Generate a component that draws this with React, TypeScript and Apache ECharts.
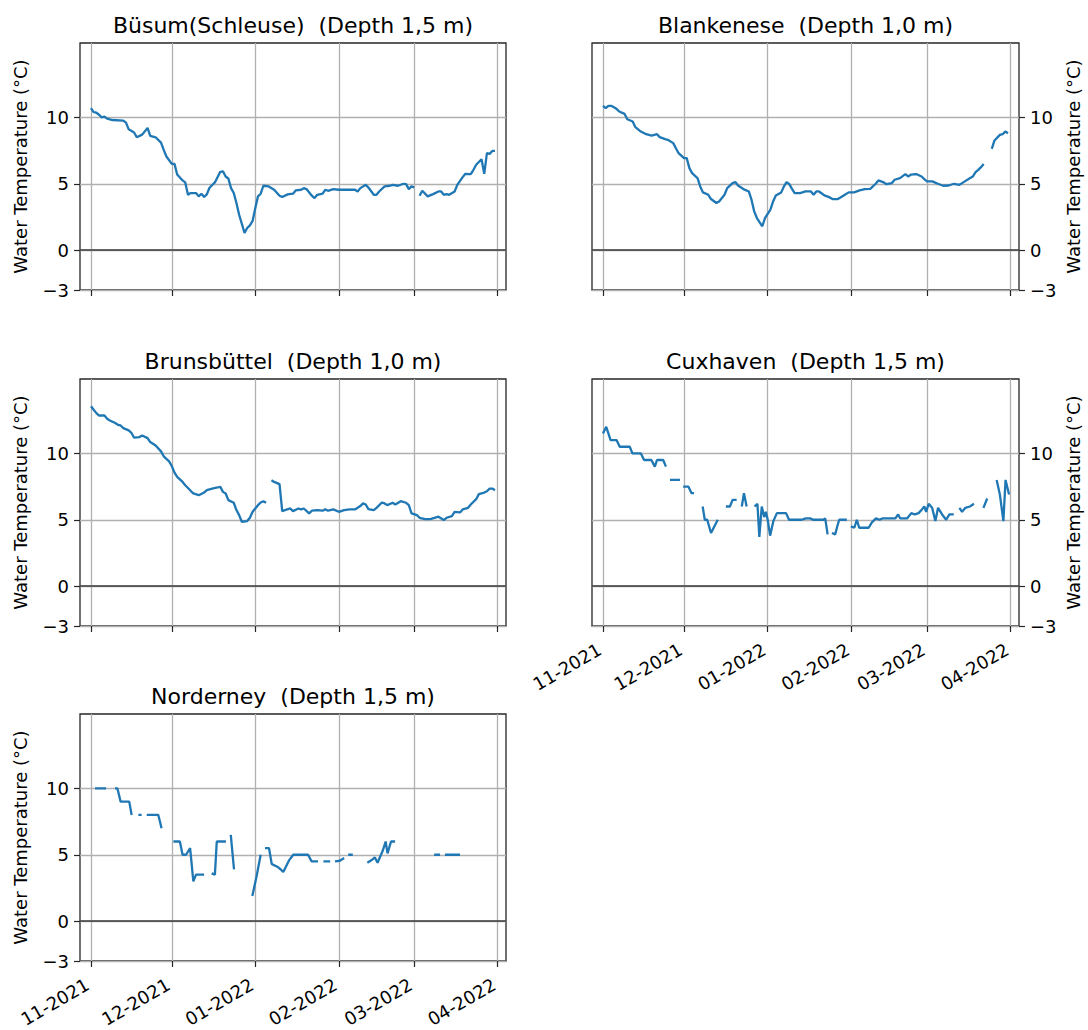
import React, { useEffect, useRef } from "react";
import * as echarts from "echarts";

// ---------- data (day offsets from 2021-11-01, temperatures in °C; null = gap) ----------
const busumDays = [0,1,2,3,4,5,6,8,12,13,14,16,17,19,21,22,24,26,27,28,30,31,32,34,35,36,37,39,40,41,42,43,44,46,48,49,50,51,52,53,54,55,57,58,59,60,61,62,63,64,66,68,70,71,73,75,76,78,79,80,82,83,84,86,87,88,90,92,95,98,99,100,102,103,105,106,107,109,111,112,114,116,117,118,119,120,121,122,123,125,127,129,130,131,132,133,135,136,138,139,141,142,143,145,146,147,148,149,150];
const busumTemps = [10.69,10.4,10.35,10.2,10.0,10.05,9.9,9.8,9.76,9.6,9.1,8.86,8.5,8.7,9.2,8.6,8.5,8.1,7.55,7.05,6.5,6.5,5.7,5.25,5.1,4.17,4.3,4.3,4.05,4.25,4.0,4.2,4.7,5.1,5.9,5.93,5.55,5.4,4.67,4.3,3.55,2.67,1.3,1.67,1.87,2.2,3.17,4.05,4.25,4.85,4.8,4.55,4.1,4.0,4.2,4.25,4.5,4.55,4.67,4.6,4.1,3.92,4.17,4.25,4.55,4.47,4.6,4.55,4.55,4.55,4.42,4.67,4.92,4.72,4.17,4.17,4.42,4.8,4.85,4.92,4.85,5.0,4.97,4.6,4.8,4.72,null,4.1,4.47,4.05,4.22,4.42,4.42,4.17,4.22,4.17,4.42,4.92,5.5,5.75,5.72,6.05,6.43,6.85,5.75,7.3,7.25,7.47,7.47];

const blankeneseDays = [0,1,2,3,5,6,8,9,11,12,14,16,18,20,21,23,24,26,27,28,30,31,32,33,35,36,37,39,40,42,43,45,46,48,49,50,52,54,55,56,57,59,60,62,63,64,66,67,68,69,70,71,73,75,77,78,79,80,82,84,85,87,89,91,93,95,97,99,101,102,104,105,107,108,110,112,113,114,116,118,119,120,122,124,126,128,130,132,133,134,136,137,138,139,140,141,142,144,145,147,148,149,150];
const blankeneseTemps = [10.87,10.69,10.87,10.87,10.64,10.44,10.26,9.86,9.69,9.26,8.93,8.73,8.63,8.73,8.51,8.36,8.31,8.06,7.68,7.3,6.93,6.93,6.18,5.8,5.43,4.8,4.35,4.17,3.85,3.55,3.67,4.17,4.67,5.05,5.13,4.87,4.6,4.42,3.8,2.92,2.42,1.8,2.42,3.05,3.67,4.12,4.35,4.8,5.13,4.97,4.62,4.3,4.3,4.42,4.42,4.17,4.42,4.42,4.12,3.97,3.85,3.85,4.1,4.35,4.35,4.5,4.6,4.62,5.0,5.25,5.1,4.97,5.05,5.3,5.43,5.73,5.55,5.68,5.73,5.55,5.35,5.18,5.18,5.0,4.85,4.87,5.0,4.92,5.05,5.18,5.43,5.55,5.88,6.05,6.25,6.48,null,7.63,8.26,8.68,8.73,8.93,8.8];

const brunsbuettelDays = [0,1,2,3,5,6,7,9,10,11,12,14,15,16,18,19,21,22,24,26,27,29,30,31,32,34,35,37,38,40,42,43,45,47,48,49,50,51,53,54,55,56,58,59,60,62,63,64,65,66,67,68,70,71,72,74,75,77,78,79,81,82,84,86,87,88,90,92,94,96,98,100,101,102,103,105,106,108,109,110,112,113,115,117,118,119,121,122,124,126,129,131,132,134,135,137,138,140,141,143,144,146,147,148,149,150];
const brunsbuettelTemps = [13.55,13.28,13.03,12.85,12.85,12.6,12.48,12.28,12.15,12.1,11.9,11.73,11.55,11.18,11.23,11.35,11.15,10.85,10.6,10.15,9.78,9.4,9.05,8.55,8.23,7.85,7.6,7.18,6.98,6.85,7.05,7.23,7.35,7.43,7.48,7.1,6.98,6.48,6.28,5.73,5.35,4.85,4.9,5.15,5.6,6.1,6.3,6.4,6.28,null,7.98,7.85,7.68,5.65,5.73,5.85,5.65,5.85,5.78,5.85,5.48,5.68,5.73,5.68,5.78,5.68,5.78,5.6,5.73,5.78,5.78,6.03,6.23,6.15,5.8,5.73,5.9,6.3,6.23,6.1,6.28,6.15,6.4,6.28,6.1,5.48,5.35,5.15,5.05,5.05,5.23,4.98,5.15,5.28,5.6,5.55,5.78,5.9,6.15,6.55,6.93,7.05,7.15,7.35,7.35,7.23];

const cuxhavenDays = [0,1.2,2.8,5,6.2,9.9,10.9,14,15.2,17.9,19.2,20,22.3,23.3,24,24.8,28.5,29,29.7,31.6,32.8,33.7,35,36.9,37.7,38.6,40,42.5,44,45.5,47,48,49.5,50.5,51.4,52.2,53.2,55,56.1,57.2,57.9,58.8,59.7,60.3,61,61.9,63.1,64.4,67.8,68.9,71.2,73.6,75.1,76.7,77.9,81.6,82.3,83.2,84,84.8,86,86.9,87.5,90.3,91,91.8,93.1,94,94.9,98.4,99.6,101.1,102.4,103.6,104.6,106.4,108.3,109.3,110.1,112.6,114.2,115.5,116.9,118.2,119,119.7,120.6,121.9,123.1,124.1,125.6,127.1,128.3,129.9,131,132,133,134.2,135.9,137.4,139,140.9,142.3,144,145.8,147,148.3,149.1,150.4];
const cuxhavenTemps = [11.5,12,11,11,10.5,10.5,10,10,9.5,9.5,9,9.5,9.5,9,null,8,8,null,7.5,7.5,7,7,null,6,5,5,4,5,null,6,6,6.5,6.5,null,6,7,6,null,6,6.2,3.7,6,5.2,5.6,5,3.8,4.9,5.5,5.5,5,5,5,5.1,5.1,5,5,5.1,3.9,null,4,3.9,4.6,5,5,null,4.5,4.4,5,4.4,4.4,4.8,5.1,5,5.1,5.1,5.1,5.1,5.4,5.1,5.1,5.5,5.4,5.5,5.8,6,5.6,6.2,5.9,4.9,5.9,5.4,5,5.4,5.4,null,5.9,5.6,5.9,6,6.2,null,5.9,6.6,null,8,6.9,4.9,8,6.9];

const norderneyDays = [1.5,5.6,7,8.9,9.8,11,14.2,15.1,16.5,17.6,18.8,19.7,20.7,25,26.2,28,30.6,33,34,35.3,36.8,38,39,42,43.5,44.8,46,46.7,50.1,51,51.9,53.1,56,59.9,61.5,63,63.8,64.6,66.1,67.1,68.1,69.2,70.4,71.4,73.6,75.1,80.6,81.9,84.3,85.3,86.3,88.8,89.7,90.6,92.4,94,94.7,95.5,97.2,100,102.6,104.2,105.4,106.4,108.3,109.4,110.1,111.4,112.9,120,127.4,129.6,130.5,131.4,137];
const norderneyTemps = [10,10,null,10,10,9,9,8,null,8,8,null,8,8,7,null,6,6,5,5,5.5,3,3.5,3.5,null,3.6,3.5,6,6,null,6.5,3.9,null,1.9,3.4,5,null,5.5,5.5,4.3,4.2,4.1,3.9,3.7,4.6,5,5,4.5,4.5,null,4.5,4.5,null,4.5,4.55,4.75,null,5,5,null,4.4,4.6,4.8,4.4,5.3,6,5.1,6,6,null,5,5,null,5,5];

const STATION_TITLES = [
  "Büsum(Schleuse)  (Depth 1,5 m)",
  "Blankenese  (Depth 1,0 m)",
  "Brunsbüttel  (Depth 1,0 m)",
  "Cuxhaven  (Depth 1,5 m)",
  "Norderney  (Depth 1,5 m)",
];
const STATION_DAYS = [busumDays, blankeneseDays, brunsbuettelDays, cuxhavenDays, norderneyDays];
const STATION_TEMPS = [busumTemps, blankeneseTemps, brunsbuettelTemps, cuxhavenTemps, norderneyTemps];

const MONTH_TICKS: [number, number][] = [[2021, 10], [2021, 11], [2022, 0], [2022, 1], [2022, 2], [2022, 3]];
const Y_TICKS = [-3, 0, 5, 10];
const Y_LABEL = "Water Temperature (°C)";

// ---------- layout / style ----------
const FONT = "DejaVu Sans";
const BLUE = "#1f77b4";
const PANELS = [
  { left: 80, top: 43, width: 426, height: 247, side: "left", xLabels: false },
  { left: 592, top: 43, width: 427, height: 247, side: "right", xLabels: false },
  { left: 80, top: 379, width: 426, height: 247, side: "left", xLabels: false },
  { left: 592, top: 379, width: 427, height: 247, side: "right", xLabels: true },
  { left: 80, top: 714, width: 426, height: 247, side: "left", xLabels: true },
];

const DAY = 86400000;
const BASE_Y = 2021, BASE_M = 10; // 2021-11-01
const dayOf = (y: number, m: number) =>
  Math.round((Date.UTC(y, m, 1) - Date.UTC(BASE_Y, BASE_M, 1)) / DAY);

function fmtMonth(dayOffset: number) {
  const d = new Date(Date.UTC(BASE_Y, BASE_M, 1) + Math.round(dayOffset) * DAY + DAY / 2);
  return `${String(d.getUTCMonth() + 1).padStart(2, "0")}-${d.getUTCFullYear()}`;
}

function buildOption() {
  const monthTicks = MONTH_TICKS.map(([y, m]) => dayOf(y, m));
  const grid = PANELS.map((p) => ({
    left: p.left, top: p.top, width: p.width, height: p.height,
    show: true, borderColor: "#262626", borderWidth: 1.3, backgroundColor: "transparent",
    containLabel: false, outerBoundsMode: "none",
  }));
  const xAxis = PANELS.map((p, i) => ({
    type: "value", gridIndex: i,
    min: -4.08, max: 154.08,
    axisLine: { show: false, onZero: false },
    axisTick: { show: true, inside: false, length: 6, customValues: monthTicks, lineStyle: { color: "#262626", width: 1.2 } },
    axisLabel: {
      show: p.xLabels, customValues: monthTicks, rotate: 30, margin: 20,
      padding: [0, 4, 0, 0],
      formatter: (v: number) => fmtMonth(v),
      fontFamily: FONT, fontSize: 18, color: "#000",
    },
    splitLine: { show: true, lineStyle: { color: "#b0b0b0", width: 1.3 } },
  }));
  const yAxis = PANELS.map((p, i) => ({
    type: "value", gridIndex: i, position: p.side,
    min: -3, max: 15.6,
    name: Y_LABEL, nameLocation: "middle", nameRotate: 90,
    nameGap: p.side === "left" ? 51 : 45,
    nameTextStyle: { fontFamily: FONT, fontSize: 18, color: "#000" },
    axisLine: { show: false, onZero: false },
    axisTick: { show: true, inside: false, length: 6, customValues: Y_TICKS, lineStyle: { color: "#262626", width: 1.2 } },
    axisLabel: {
      show: true, customValues: Y_TICKS, margin: 11,
      formatter: (v: number) => (v < 0 ? "\u2212" + Math.abs(v) : String(v)),
      fontFamily: FONT, fontSize: 18, color: "#000",
    },
    splitLine: { show: true, lineStyle: { color: "#b0b0b0", width: 1.3 } },
  }));
  const series = PANELS.map((p, i) => ({
    type: "line", xAxisIndex: i, yAxisIndex: i,
    name: STATION_TITLES[i],
    data: STATION_DAYS[i].map((d, k) => [d, STATION_TEMPS[i][k]]),
    showSymbol: false, symbol: "none", connectNulls: false,
    lineStyle: { color: BLUE, width: 2.3 }, itemStyle: { color: BLUE },
    markLine: {
      silent: true, symbol: ["none", "none"], label: { show: false },
      lineStyle: { color: "#3a3a3a", width: 1.6, type: "solid" },
      data: [{ yAxis: 0 }],
    },
    z: 3,
  }));
  const graphic = PANELS.map((p, i) => ({
    type: "text", x: p.left + p.width / 2, y: p.top - 18,
    style: {
      text: STATION_TITLES[i], textAlign: "center", textVerticalAlign: "middle",
      font: `22px '${FONT}'`, fill: "#000",
    },
  }));
  return { animation: false, backgroundColor: "#fff", grid, xAxis, yAxis, series, graphic };
}

export default function App() {
  const ref = useRef<HTMLDivElement>(null);
  useEffect(() => {
    const chart = echarts.init(ref.current!, null, { renderer: "svg" });
    chart.setOption(buildOption() as any);
    return () => chart.dispose();
  }, []);
  return (
    <div
      ref={ref}
      style={{ position: "fixed", left: 0, top: 0, width: 1088, height: 1030, background: "#fff" }}
    />
  );
}
